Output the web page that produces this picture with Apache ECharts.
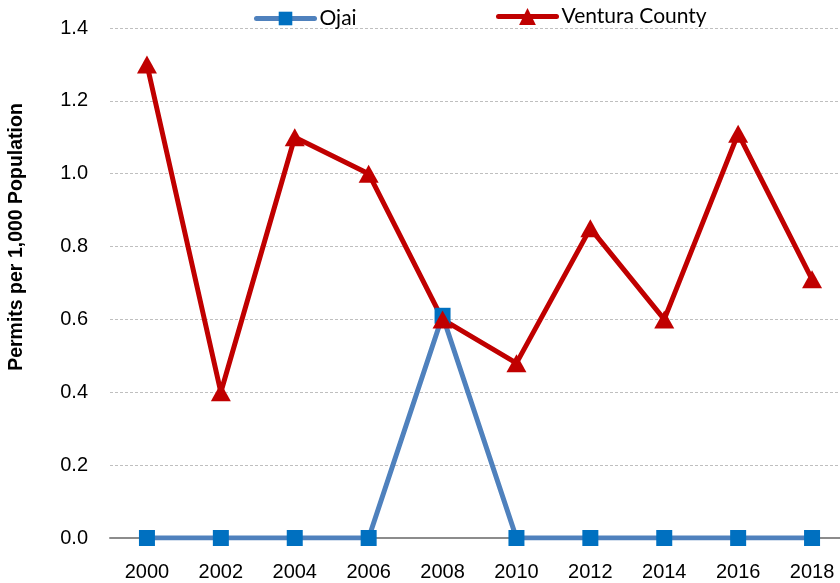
<!DOCTYPE html>
<html>
<head>
<meta charset="utf-8">
<script src="https://cdn.jsdelivr.net/npm/echarts@6/dist/echarts.min.js"></script>
<style>
  html, body { margin: 0; padding: 0; background: #fff; }
  #chart { width: 840px; height: 583px; }
</style>
</head>
<body>
<div id="chart"></div>
<script>
// data
var years = ['2000', '2002', '2004', '2006', '2008', '2010', '2012', '2014', '2016', '2018'];
var ojai = [0, 0, 0, 0, 0.61, 0, 0, 0, 0, 0];
var ventura = [1.3, 0.4, 1.1, 1.0, 0.6, 0.48, 0.85, 0.6, 1.11, 0.71];

var labelFont = '"Liberation Sans", Arial, sans-serif';
var legendFont = 'Lato, "Open Sans", sans-serif';

var myChart = echarts.init(document.getElementById('chart'));

var option = {
    animation: false,
    backgroundColor: '#fff',
    legend: [
        {
            data: ['Ojai'],
            left: 254,
            top: 8,
            padding: 0,
            itemWidth: 58,
            itemHeight: 17,
            itemGap: 4,
            lineStyle: { width: 5, cap: 'round' },
            textStyle: { fontFamily: legendFont, fontSize: 21, color: '#000' }
        },
        {
            data: ['Ventura County'],
            left: 496,
            top: 6,
            padding: 0,
            itemWidth: 58,
            itemHeight: 21,
            lineStyle: { width: 5, cap: 'round' },
            textStyle: { fontFamily: legendFont, fontSize: 21, color: '#000' }
        }
    ],
    grid: { left: 110, top: 28, width: 739, height: 510, outerBoundsMode: 'none' },
    xAxis: {
        type: 'category',
        data: years,
        boundaryGap: true,
        axisLine: { lineStyle: { color: '#8c8c8c', width: 2 } },
        axisTick: { show: false },
        axisLabel: { fontFamily: labelFont, fontSize: 20, color: '#000', margin: 24 },
        splitLine: { show: false }
    },
    yAxis: {
        type: 'value',
        min: 0,
        max: 1.4,
        interval: 0.2,
        axisLine: { show: false },
        axisTick: { show: false },
        axisLabel: {
            fontFamily: labelFont, fontSize: 20, color: '#000', margin: 22,
            formatter: function (v) { return v.toFixed(1); }
        },
        splitLine: { lineStyle: { color: '#bfbfbf', type: [3, 2], width: 1 } }
    },
    graphic: [
        {
            type: 'text',
            x: 17,
            y: 237,
            rotation: Math.PI / 2,
            style: {
                text: 'Permits per 1,000 Population',
                fontFamily: 'Liberation Sans, Arial, sans-serif',
                fontSize: 19.5,
                fontWeight: 'bold',
                fill: '#000',
                align: 'center',
                verticalAlign: 'middle'
            }
        }
    ],
    series: [
        {
            name: 'Ojai',
            type: 'line',
            data: ojai,
            symbol: 'rect',
            symbolSize: 16,
            lineStyle: { color: '#4f81bd', width: 5 },
            itemStyle: { color: '#0070c0' }
        },
        {
            name: 'Ventura County',
            type: 'line',
            data: ventura,
            symbol: 'triangle',
            symbolSize: [20, 18],
            lineStyle: { color: '#c00000', width: 5 },
            itemStyle: { color: '#c00000' }
        }
    ]
};

myChart.setOption(option);
</script>
</body>
</html>
